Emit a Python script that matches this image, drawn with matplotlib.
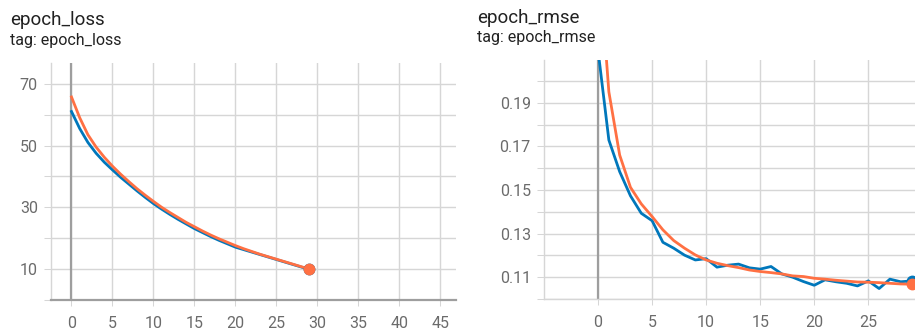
import numpy as np
import matplotlib.pyplot as plt
from matplotlib.ticker import FixedLocator, FormatStrFormatter

# per-epoch scalars exported from the training run
epochs = np.arange(30)
loss_train = [65.7, 59.0, 53.5, 49.5, 46.2, 43.3, 40.7, 38.3, 36.0, 33.9,
              31.9, 30.0, 28.3, 26.7, 25.1, 23.7, 22.3, 21.0, 19.8, 18.7,
              17.6, 16.6, 15.7, 14.8, 14.0, 13.2, 12.4, 11.6, 10.8, 10.0]
loss_val = [61.0, 55.5, 51.0, 47.5, 44.6, 42.1, 39.7, 37.5, 35.3, 33.2,
            31.2, 29.4, 27.7, 26.1, 24.6, 23.1, 21.8, 20.5, 19.3, 18.2,
            17.1, 16.3, 15.5, 14.7, 13.9, 13.1, 12.3, 11.5, 10.7, 9.9]
rmse_train = [0.261, 0.195, 0.1660, 0.1512, 0.1436, 0.1378, 0.1317, 0.1268, 0.1233, 0.1202,
              0.1179, 0.1164, 0.1153, 0.1144, 0.1133, 0.1126, 0.1121, 0.1115, 0.1106, 0.1103,
              0.1095, 0.1091, 0.1086, 0.1082, 0.1078, 0.1077, 0.1075, 0.1072, 0.1069, 0.1068]
rmse_val = [0.214, 0.1729, 0.1584, 0.1473, 0.1393, 0.1359, 0.1260, 0.1233, 0.1201, 0.1179,
            0.1185, 0.1146, 0.1155, 0.1160, 0.1143, 0.1137, 0.1149, 0.1115, 0.1100, 0.1080,
            0.1063, 0.1088, 0.1079, 0.1072, 0.1060, 0.1083, 0.1048, 0.1091, 0.1079, 0.1083]

xticks = [0, 5, 10, 15, 20, 25, 30, 35, 40, 45]
loss_yticks = [10, 30, 50, 70]
loss_ygrid = [0, 20, 40, 60]
rmse_yticks = [0.11, 0.13, 0.15, 0.17, 0.19]
rmse_ygrid = [0.10, 0.12, 0.14, 0.16, 0.18, 0.20]

ORANGE = '#ff7043'
BLUE = '#0077bb'
GRID = '#d6d6d6'
ZERO = '#9e9e9e'
TICKTXT = '#6b6b6b'

plt.rcParams['font.family'] = ['Roboto', 'DejaVu Sans']

W, H = 915, 328
fig = plt.figure(figsize=(W / 100, H / 100), dpi=100)


def add_axes_px(x0, y0, x1, y1):
    return fig.add_axes([x0 / W, 1 - y1 / H, (x1 - x0) / W, (y1 - y0) / H])


def style(ax, yticks, ygrid, fmt):
    ax.xaxis.set_major_locator(FixedLocator(xticks))
    ax.yaxis.set_major_locator(FixedLocator(yticks))
    ax.yaxis.set_minor_locator(FixedLocator(ygrid))
    ax.yaxis.set_major_formatter(FormatStrFormatter(fmt))
    ax.grid(which='both', color=GRID, lw=1.0)
    ax.tick_params(axis='y', which='both', length=5, width=0.75, color=GRID,
                   labelsize=11.5, labelcolor=TICKTXT, pad=4.5)
    ax.tick_params(axis='x', length=4, width=0.75, color=GRID,
                   labelsize=11.5, labelcolor=TICKTXT, pad=7.5)
    for side in ('top', 'right'):
        ax.spines[side].set_visible(False)
    ax.spines['left'].set_color(GRID)
    ax.spines['left'].set_linewidth(1.0)
    ax.spines['bottom'].set_color(GRID)
    ax.spines['bottom'].set_linewidth(1.0)
    ax.axvline(0, color=ZERO, lw=1.6, zorder=1.5)
    ax.set_axisbelow(True)


def curves(ax, train, val):
    ax.plot(epochs, val, color=BLUE, lw=2.0, zorder=3)
    ax.plot(epochs, train, color=ORANGE, lw=2.0, zorder=4)
    ax.plot(epochs[-1], val[-1], 'o', color=BLUE, ms=7.5, zorder=5, clip_on=False)
    ax.plot(epochs[-1], train[-1], 'o', color=ORANGE, ms=7.5, zorder=6, clip_on=False)


# loss panel
ax1 = add_axes_px(51, 63, 456, 300)
curves(ax1, loss_train, loss_val)
style(ax1, loss_yticks, loss_ygrid, '%d')
ax1.set_xlim(-2.5, 46.9)
ax1.set_ylim(0, 76.7)
ax1.spines['bottom'].set_color(ZERO)
ax1.spines['bottom'].set_linewidth(1.6)

# rmse panel
ax2 = add_axes_px(544, 60, 915, 299)
curves(ax2, rmse_train, rmse_val)
style(ax2, rmse_yticks, rmse_ygrid, '%.2f')
ax2.set_xlim(-5.0, 29.32)
ax2.set_ylim(0.10, 0.2096)

for x, name, yb1, yb2 in [(10, 'epoch_loss', 25, 45), (477, 'epoch_rmse', 23, 42)]:
    fig.text(x / W, 1 - yb1 / H, name, fontsize=13.5, color='#212121', va='baseline')
    fig.text(x / W, 1 - yb2 / H, 'tag: ' + name, fontsize=11.5, color='#212121', va='baseline')

fig.savefig('out.png', dpi=100)
